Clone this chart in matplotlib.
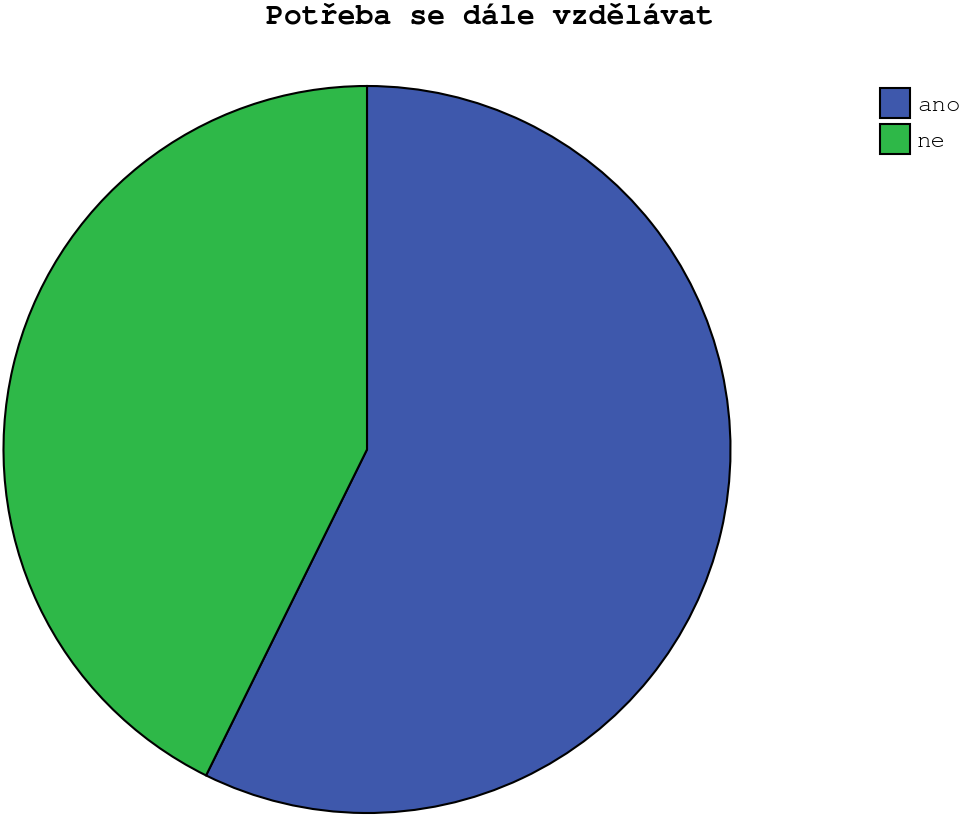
import matplotlib
matplotlib.use("Agg")
import matplotlib.pyplot as plt
from matplotlib import font_manager

# the reference uses a Courier-like face; take the first one that is installed
installed = {f.name for f in font_manager.fontManager.ttflist}
candidates = ["Courier New", "Courier", "Nimbus Mono PS", "Nimbus Mono L",
              "FreeMono", "Liberation Mono", "DejaVu Sans Mono"]
mono = [name for name in candidates if name in installed] or ["DejaVu Sans Mono"]
plt.rcParams["font.family"] = mono[:1] + ["DejaVu Sans Mono"]

# data
labels = ["ano", "ne"]
shares = [57.3, 42.7]
colors = ["#3e58ac", "#2eb848"]
title = "Potřeba se dále vzdělávat"

W, H = 960, 816
fig = plt.figure(figsize=(W / 100, H / 100), dpi=100)

cx, cy, r = 367, 449.5, 363.5
ax = fig.add_axes([(cx - r) / W, (H - cy - r) / H, 2 * r / W, 2 * r / H])
wedges, _ = ax.pie(shares, colors=colors, startangle=90, counterclock=False,
                   wedgeprops=dict(edgecolor="black", linewidth=1.5, clip_on=False))
ax.set_xlim(-1, 1)
ax.set_ylim(-1, 1)
ax.set_aspect("equal")
ax.axis("off")

fig.text(490 / W, 1 - 24 / H, title, ha="center", va="baseline",
         fontweight="bold", fontsize=21.5)

fig.legend(wedges, labels, loc="upper left", bbox_to_anchor=(880 / W, 1 - 88 / H),
           frameon=False, borderpad=0, borderaxespad=0, fontsize=17.5,
           handlelength=1.23, handleheight=1.52, handletextpad=0.3,
           labelspacing=0.25)

plt.savefig("out.png", dpi=100)
plt.close(fig)
